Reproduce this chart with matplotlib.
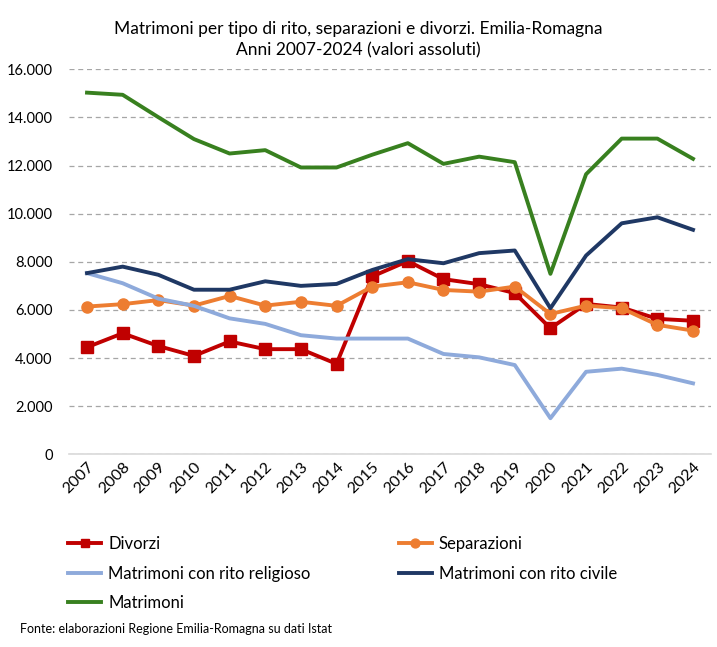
import matplotlib.pyplot as plt
from matplotlib.ticker import FuncFormatter

plt.rcParams['font.family'] = ['Lato', 'DejaVu Sans']

anni = [str(a) for a in range(2007, 2025)]
divorzi = [4450, 5030, 4500, 4090, 4690, 4370, 4370, 3760, 7390, 8030,
           7280, 7070, 6700, 5240, 6250, 6100, 5630, 5550]
separazioni = [6140, 6240, 6410, 6180, 6580, 6180, 6340, 6170, 6970, 7150,
               6830, 6760, 6970, 5830, 6180, 6070, 5380, 5140]
religioso = [7530, 7110, 6470, 6170, 5650, 5420, 4950, 4810, 4810, 4810,
             4170, 4030, 3710, 1500, 3430, 3560, 3300, 2950]
civile = [7530, 7800, 7460, 6840, 6840, 7190, 7000, 7080, 7660, 8110,
          7940, 8360, 8470, 6070, 8260, 9600, 9850, 9330]
matrimoni = [15030, 14940, 14010, 13100, 12500, 12640, 11920, 11920, 12450, 12930,
             12070, 12370, 12140, 7500, 11640, 13120, 13120, 12280]

fig = plt.figure(figsize=(7.17, 6.47), dpi=100)
ax = fig.add_axes([0.0965, 0.2978, 0.8949, 0.5951])

x = range(len(anni))
lw = 2.8
l_div, = ax.plot(x, divorzi, color='#c00000', lw=lw, marker='s', ms=8, label='Divorzi')
l_sep, = ax.plot(x, separazioni, color='#ed7d31', lw=lw, marker='o', ms=8, label='Separazioni')
l_rel, = ax.plot(x, religioso, color='#8eaadb', lw=lw, label='Matrimoni con rito religioso')
l_civ, = ax.plot(x, civile, color='#1f3864', lw=lw, label='Matrimoni con rito civile')
l_mat, = ax.plot(x, matrimoni, color='#38801f', lw=lw, label='Matrimoni')

ax.set_xlim(-0.5, len(anni) - 0.5)
ax.set_ylim(0, 16000)
ax.set_yticks(range(0, 16001, 2000))
ax.yaxis.set_major_formatter(FuncFormatter(lambda v, p: f'{int(v):,}'.replace(',', '.')))
ax.set_xticks(list(x))
ax.set_xticklabels(anni, rotation=45, ha='right', rotation_mode='anchor', fontsize=11.5)
ax.tick_params(axis='y', labelsize=10.5, length=0, pad=12)
ax.tick_params(axis='x', length=0, pad=4)
ax.grid(axis='y', color='#a6a6a6', ls=(0, (4, 3)), lw=0.9)
for s in ['top', 'right', 'left']:
    ax.spines[s].set_visible(False)
ax.spines['bottom'].set_color('#d9d9d9')
ax.spines['bottom'].set_linewidth(1.2)

fig.text(0.5, 0.967, 'Matrimoni per tipo di rito, separazioni e divorzi. Emilia-Romagna\nAnni 2007-2024 (valori assoluti)',
         ha='center', va='top', fontsize=12.5, linespacing=1.35)

# legend filled row by row like the original
handles = [l_div, l_rel, l_mat, l_sep, l_civ]
fig.legend(handles, [h.get_label() for h in handles], loc='upper left',
           bbox_to_anchor=(0.074, 0.195), ncol=2, frameon=False,
           fontsize=12, handlelength=2.0, handletextpad=0.4, columnspacing=5.3,
           labelspacing=0.82, markerscale=0.8)

fig.text(0.028, 0.022, 'Fonte: elaborazioni Regione Emilia-Romagna su dati Istat', fontsize=9)

fig.savefig('out.png', dpi=100)
